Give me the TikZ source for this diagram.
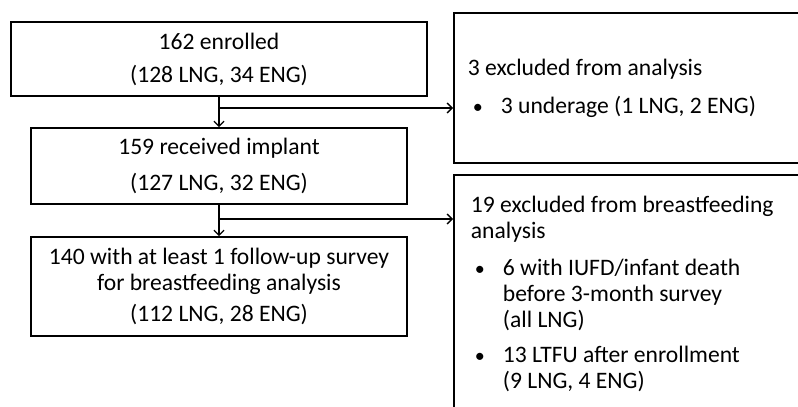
\documentclass[tikz,border=0pt]{standalone}
\usepackage{fontspec}
\setmainfont{Carlito}
\usetikzlibrary{positioning, arrows.meta}
\tikzset{
    box/.style={draw, line width=1.8pt, inner sep=0pt, align=center},
    side box/.style={draw, line width=1.8pt, anchor=north west, align=flush left, inner ysep=0pt},
    flow/.style={-{Straight Barb[length=5pt, width=10pt, line width=1.3pt]}, line width=1.3pt}
}
\newcommand{\bulletitem}[1]{\hspace*{#1}\makebox[28pt][l]{\scalebox{0.85}{•}}}
\begin{document}
\begin{tikzpicture}[x=1pt, y=1pt, font=\fontsize{23.6}{26}\selectfont]
                \useasboundingbox (0,0) rectangle (798,-407);
                \clip (0,0) rectangle (798,-407);

                \node[box, minimum width=416, minimum height=74] (Enrolled) at (219,-59) {162 enrolled\\[7pt] (128 LNG, 34 ENG)};
                \node[box, minimum width=376, minimum height=76] (Received Implant) at (219,-166) {159 received implant\\[10pt] (127 LNG, 32 ENG)};
                \node[box, minimum width=376, minimum height=99] (Follow-up) at (219,-286.5) {140 with at least 1 follow-up survey\\ for breastfeeding analysis\\[5pt] (112 LNG, 28 ENG)};

                \node[side box, inner xsep=14pt, text width=392pt, minimum height=150] (Excluded) at (453,-12) {3 excluded from analysis\\[12pt] \bulletitem{5pt}3 underage (1 LNG, 2 ENG)};
                \node[side box, inner xsep=17pt, text width=386pt, minimum height=239] (Excluded Feeding) at (453,-174) {19 excluded from breastfeeding\\ analysis\\[11pt]
                    \bulletitem{4pt}6 with IUFD/infant death\\ \hspace*{32pt}before 3-month survey\\ \hspace*{32pt}(all LNG)\\[9pt]
                    \bulletitem{4pt}13 LTFU after enrollment\\ \hspace*{32pt}(9 LNG, 4 ENG)};

                \coordinate (Split A) at (219,-108);
                \coordinate (Split B) at (219,-219);

                \draw[flow] (Enrolled) -- (Received Implant);
                \draw[flow] (Received Implant) -- (Follow-up);
                \draw[flow] (Split A) -- (Split A -| Excluded.west);
                \draw[flow] (Split B) -- (Split B -| Excluded Feeding.west);

            \end{tikzpicture}
\end{document}
